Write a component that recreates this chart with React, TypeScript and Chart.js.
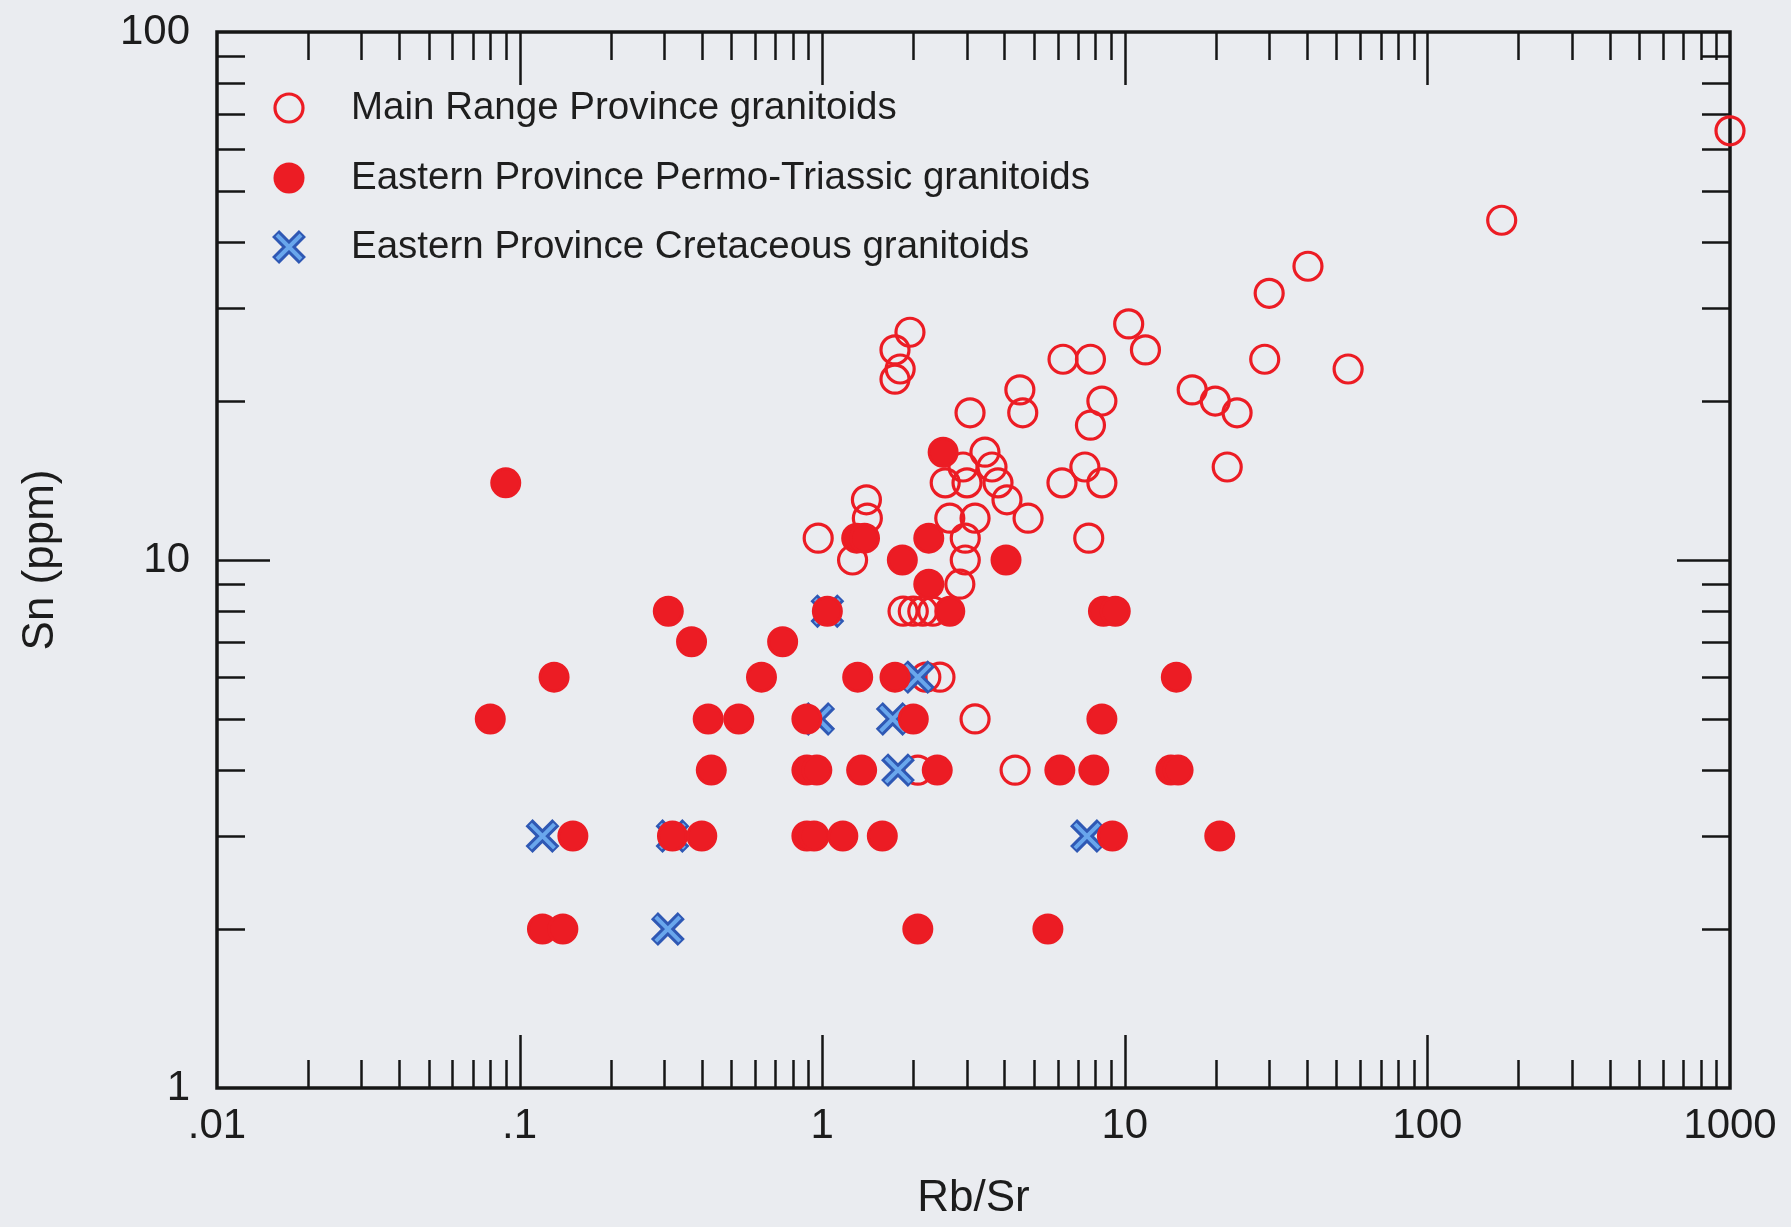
import React, { useEffect, useRef } from 'react';
import { Chart, registerables } from 'chart.js';

Chart.register(...registerables);

// ---------- data ----------
const SERIES_NAMES = [
  'Main Range Province granitoids',
  'Eastern Province Permo-Triassic granitoids',
  'Eastern Province Cretaceous granitoids',
];

// Main Range Province granitoids (open circles): Rb/Sr, Sn (ppm)
const MAIN_RB_SR = [
  0.97, 1.26, 1.4, 1.41, 1.74, 1.95, 1.81, 1.74, 1.85, 2.0, 2.15, 2.32, 2.2, 2.45, 2.07,
  2.55, 2.92, 3.01, 3.45, 3.64, 3.81, 4.08, 2.64, 3.2, 4.79, 2.97, 2.97, 2.85, 3.08, 4.5,
  4.6, 6.25, 7.7, 8.4, 7.7, 10.3, 11.7, 6.2, 7.38, 8.4, 7.6, 3.2, 4.34, 16.7, 19.9, 23.5,
  29, 21.8, 30, 40.3, 54.7, 176, 1000,
];
const MAIN_SN = [
  11, 10, 13, 12, 25, 27, 23, 22, 8, 8, 8, 8, 6, 6, 4,
  14, 15, 14, 16, 15, 14, 13, 12, 12, 12, 11, 10, 9, 19, 21,
  19, 24, 24, 20, 18, 28, 25, 14, 15, 14, 11, 5, 4, 21, 20, 19,
  24, 15, 32, 36, 23, 44, 65,
];

// Eastern Province Permo-Triassic granitoids (filled circles)
const PT_RB_SR = [
  0.09, 2.51, 1.3, 1.38, 2.25, 1.84, 4.05, 2.25, 0.31, 1.04, 2.64, 8.5, 9.3, 0.37, 0.74,
  0.13, 0.63, 1.31, 1.74, 14.8, 0.08, 0.42, 0.53, 0.89, 2.0, 8.4, 0.43, 0.89, 0.96, 1.35,
  2.4, 6.1, 7.9, 14.2, 15, 0.15, 0.32, 0.4, 0.89, 0.94, 1.17, 1.58, 9.1, 20.6, 0.119,
  0.139, 2.07, 5.57,
];
const PT_SN = [
  14, 16, 11, 11, 11, 10, 10, 9, 8, 8, 8, 8, 8, 7, 7,
  6, 6, 6, 6, 6, 5, 5, 5, 5, 5, 5, 4, 4, 4, 4,
  4, 4, 4, 4, 4, 3, 3, 3, 3, 3, 3, 3, 3, 3, 2,
  2, 2, 2,
];

// Eastern Province Cretaceous granitoids (crosses)
const CR_RB_SR = [0.119, 0.309, 0.32, 1.04, 0.97, 1.71, 1.78, 2.07, 7.5];
const CR_SN = [3, 2, 3, 8, 5, 5, 4, 6, 3];

// axes
const X_TICK_VALUES = [0.01, 0.1, 1, 10, 100, 1000];
const X_TICK_LABELS = ['.01', '.1', '1', '10', '100', '1000'];
const Y_TICK_VALUES = [1, 10, 100];
const Y_TICK_LABELS = ['1', '10', '100'];
const MINOR_MULTIPLIERS = [2, 3, 4, 5, 6, 7, 8, 9];
const X_TITLE = 'Rb/Sr';
const Y_TITLE = 'Sn (ppm)';

// ---------- styles ----------
const FONT = "'Liberation Sans', Arial, Helvetica, sans-serif";
const RED = '#ec1c24';
const BLUE_DARK = '#2f58b4';
const BLUE_LIGHT = '#69a6ec';
const INK = '#161616';
const BG = '#eaecf0';

const pts = (xs: number[], ys: number[]) => xs.map((x, i) => ({ x, y: ys[i] }));

const framePlugin = {
  id: 'frame',
  beforeDatasetsDraw(chart: any) {
    const { ctx, chartArea } = chart;
    const { left, right, top, bottom } = chartArea;
    const xs = chart.scales.x;
    const ys = chart.scales.y;
    ctx.save();
    ctx.strokeStyle = INK;
    ctx.lineWidth = 2.5;
    ctx.beginPath();
    for (const dec of X_TICK_VALUES) {
      for (const m of [1, ...MINOR_MULTIPLIERS]) {
        const v = dec * m;
        if (v <= xs.min * 1.0001 || v >= xs.max * 0.9999) continue;
        const px = Math.round(xs.getPixelForValue(v)) + 0.5;
        const len = m === 1 ? 53 : 28;
        ctx.moveTo(px, bottom);
        ctx.lineTo(px, bottom - len);
        ctx.moveTo(px, top);
        ctx.lineTo(px, top + len);
      }
    }
    for (const dec of Y_TICK_VALUES) {
      for (const m of [1, ...MINOR_MULTIPLIERS]) {
        const v = dec * m;
        if (v <= ys.min * 1.0001 || v >= ys.max * 0.9999) continue;
        const py = Math.round(ys.getPixelForValue(v)) + 0.5;
        const len = m === 1 ? 53 : 28;
        ctx.moveTo(left, py);
        ctx.lineTo(left + len, py);
        ctx.moveTo(right, py);
        ctx.lineTo(right - len, py);
      }
    }
    ctx.stroke();
    ctx.lineWidth = 3.5;
    ctx.strokeRect(left, top, right - left, bottom - top);
    ctx.restore();
  },
};

const legendPlugin = {
  id: 'insideLegend',
  afterDatasetsDraw(chart: any) {
    const { ctx, chartArea } = chart;
    const mx = chartArea.left + 72;
    const tx = chartArea.left + 134;
    const rows = [chartArea.top + 76, chartArea.top + 146, chartArea.top + 215];
    ctx.save();
    ctx.beginPath();
    ctx.arc(mx, rows[0], 14, 0, Math.PI * 2);
    ctx.strokeStyle = RED;
    ctx.lineWidth = 3.2;
    ctx.stroke();
    ctx.beginPath();
    ctx.arc(mx, rows[1], 15.5, 0, Math.PI * 2);
    ctx.fillStyle = RED;
    ctx.fill();
    const drawX = (r: number, w: number, c: string) => {
      const o = r * Math.SQRT1_2;
      ctx.beginPath();
      ctx.moveTo(mx - o, rows[2] - o);
      ctx.lineTo(mx + o, rows[2] + o);
      ctx.moveTo(mx + o, rows[2] - o);
      ctx.lineTo(mx - o, rows[2] + o);
      ctx.strokeStyle = c;
      ctx.lineWidth = w;
      ctx.stroke();
    };
    drawX(19, 10, BLUE_DARK);
    drawX(17, 4, BLUE_LIGHT);
    ctx.fillStyle = '#1e1e1e';
    ctx.font = `38.5px ${FONT}`;
    ctx.textBaseline = 'middle';
    ctx.textAlign = 'left';
    SERIES_NAMES.forEach((name, i) => ctx.fillText(name, tx, rows[i]));
    ctx.restore();
  },
};

export default function App() {
  const ref = useRef<HTMLCanvasElement>(null);

  useEffect(() => {
    const canvas = ref.current;
    if (!canvas) return;
    const tickFont = { family: FONT, size: 42 };
    const titleFont = { family: FONT, size: 44 };
    const chart = new Chart(canvas, {
      type: 'scatter',
      data: {
        datasets: [
          {
            label: SERIES_NAMES[1],
            data: pts(PT_RB_SR, PT_SN),
            pointStyle: 'circle',
            pointRadius: 14,
            pointBorderWidth: 3,
            backgroundColor: RED,
            borderColor: RED,
            clip: false,
          },
          {
            label: SERIES_NAMES[2] + ' (inner)',
            data: pts(CR_RB_SR, CR_SN),
            pointStyle: 'crossRot',
            pointRadius: 17,
            pointBorderWidth: 4,
            borderColor: BLUE_LIGHT,
            backgroundColor: BLUE_LIGHT,
            clip: false,
          },
          {
            label: SERIES_NAMES[2],
            data: pts(CR_RB_SR, CR_SN),
            pointStyle: 'crossRot',
            pointRadius: 19,
            pointBorderWidth: 10,
            borderColor: BLUE_DARK,
            backgroundColor: BLUE_DARK,
            clip: false,
          },
          {
            label: SERIES_NAMES[0],
            data: pts(MAIN_RB_SR, MAIN_SN),
            pointStyle: 'circle',
            pointRadius: 14,
            pointBorderWidth: 3.2,
            backgroundColor: 'rgba(0,0,0,0)',
            borderColor: RED,
            clip: false,
          },
        ] as any,
      },
      options: {
        animation: false,
        responsive: false,
        devicePixelRatio: 1,
        events: [],
        layout: { padding: { left: 0, top: 32, right: 61, bottom: 0 } },
        plugins: {
          legend: { display: false },
          tooltip: { enabled: false },
        },
        scales: {
          x: {
            type: 'logarithmic',
            position: 'bottom',
            min: 0.01,
            max: 1000,
            afterBuildTicks: (s: any) => {
              s.ticks = X_TICK_VALUES.map((v) => ({ value: v }));
            },
            afterFit: (s: any) => {
              s.height = 139;
              s.paddingLeft = 0;
              s.paddingRight = 0;
            },
            grid: { display: false, drawTicks: false },
            border: { display: false },
            ticks: {
              autoSkip: false,
              maxRotation: 0,
              minRotation: 0,
              padding: 13,
              color: '#1c1c1c',
              font: tickFont,
              callback: (_v: any, i: number) => X_TICK_LABELS[i],
            },
            title: {
              display: true,
              text: X_TITLE,
              color: '#1c1c1c',
              font: titleFont,
              padding: { top: 0, bottom: 2 },
            },
          },
          y: {
            type: 'logarithmic',
            position: 'left',
            min: 1,
            max: 100,
            afterBuildTicks: (s: any) => {
              s.ticks = Y_TICK_VALUES.map((v) => ({ value: v }));
            },
            afterFit: (s: any) => {
              s.width = 217;
              s.paddingTop = 0;
              s.paddingBottom = 0;
            },
            grid: { display: false, drawTicks: false },
            border: { display: false },
            ticks: {
              autoSkip: false,
              padding: 27,
              color: '#1c1c1c',
              font: tickFont,
              callback: (_v: any, i: number) => Y_TICK_LABELS[i],
            },
            title: {
              display: true,
              text: Y_TITLE,
              color: '#1c1c1c',
              font: titleFont,
              padding: { top: 14, bottom: 0 },
            },
          },
        },
      } as any,
      plugins: [framePlugin, legendPlugin],
    });
    return () => chart.destroy();
  }, []);

  return (
    <div
      style={{
        position: 'absolute',
        left: 0,
        top: 0,
        width: 1791,
        height: 1227,
        background: BG,
        overflow: 'hidden',
      }}
    >
      <canvas
        ref={ref}
        width={1791}
        height={1227}
        style={{ display: 'block', width: 1791, height: 1227 }}
      />
    </div>
  );
}
